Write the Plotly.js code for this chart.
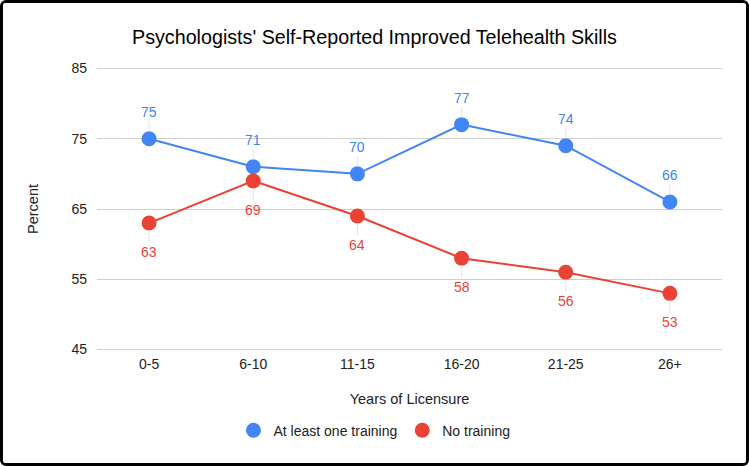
<!DOCTYPE html>
<html><head><meta charset="utf-8">
<script src="https://cdn.plot.ly/plotly-3.0.1.min.js"></script>
<style>
html,body{margin:0;padding:0;background:#fff;}
#wrap{width:749px;height:466px;box-sizing:border-box;border:3px solid #000;border-radius:6px;overflow:hidden;background:#fff;}
#chart{width:743px;height:460px;}
</style></head>
<body><div id="wrap"><div id="chart"></div></div>
<script>
const categories = ["0-5","6-10","11-15","16-20","21-25","26+"];
const atLeastOne = [75,71,70,77,74,66];
const noTraining = [63,69,64,58,56,53];
const seriesNames = ["At least one training","No training"];
const yTicks = [45,55,65,75,85];
const blue = "#4285F4", red = "#EA4335";
const font = "Liberation Sans, Arial, sans-serif";

const traces = [
  {x: categories, y: atLeastOne, name: seriesNames[0], type: "scatter", mode: "lines+markers",
   line: {color: blue, width: 2}, marker: {color: blue, size: 15}, showlegend: false},
  {x: categories, y: noTraining, name: seriesNames[1], type: "scatter", mode: "lines+markers",
   line: {color: red, width: 2}, marker: {color: red, size: 15}, showlegend: false},
  {x: [null], y: [null], name: seriesNames[0], type: "scatter", mode: "markers",
   marker: {color: blue, size: 15}, showlegend: true},
  {x: [null], y: [null], name: seriesNames[1], type: "scatter", mode: "markers",
   marker: {color: red, size: 15}, showlegend: true}
];
const annotations = [];
categories.forEach((c,i)=>{
  annotations.push({x:c, y:atLeastOne[i], xref:"x", yref:"y", text:String(atLeastOne[i]),
    showarrow:true, arrowhead:0, arrowwidth:1, arrowcolor:"#e3e3e3", ax:0, ay:-27, standoff:7,
    font:{family:font, size:14, color:blue}});
  annotations.push({x:c, y:noTraining[i], xref:"x", yref:"y", text:String(noTraining[i]),
    showarrow:true, arrowhead:0, arrowwidth:1, arrowcolor:"#e3e3e3", ax:0, ay:29, standoff:7,
    font:{family:font, size:14, color:red}});
});
const layout = {
  width: 743, height: 460,
  margin: {l: 94, r: 24, t: 64, b: 112},
  paper_bgcolor: "#fff", plot_bgcolor: "#fff",
  font: {family: font, size: 14, color: "#222"},
  title: {text: "Psychologists' Self-Reported Improved Telehealth Skills", x: 0.5, xanchor: "center",
    xref: "container", y: 0.9267, yref: "container", yanchor: "middle",
    font: {family: font, size: 19.7, color: "#000"}},
  xaxis: {type: "category", range: [-0.5, 5.5], showgrid: false, zeroline: false, showline: false, ticks: "",
    ticklabelstandoff: 3, tickfont: {family: font, size: 14, color: "#222"},
    title: {text: "Years of Licensure", font: {family: font, size: 14.5, color: "#222"}, standoff: 22}},
  yaxis: {range: [44.8, 85.2], tickvals: yTicks, showgrid: true, gridcolor: "#d0d0d0", zeroline: false,
    showline: false, ticks: "", ticklabelstandoff: 9, tickfont: {family: font, size: 14, color: "#222"},
    title: {text: "Percent", font: {family: font, size: 14.5, color: "#222"}, standoff: 29}},
  legend: {orientation: "h", xref: "container", x: 0.5, xanchor: "center", yref: "container", y: 0.0702,
    yanchor: "middle", font: {family: font, size: 14, color: "#222"}, itemwidth: 30},
  annotations: annotations,
  showlegend: true
};
Plotly.newPlot("chart", traces, layout, {displayModeBar: false, staticPlot: true});
</script></body></html>
